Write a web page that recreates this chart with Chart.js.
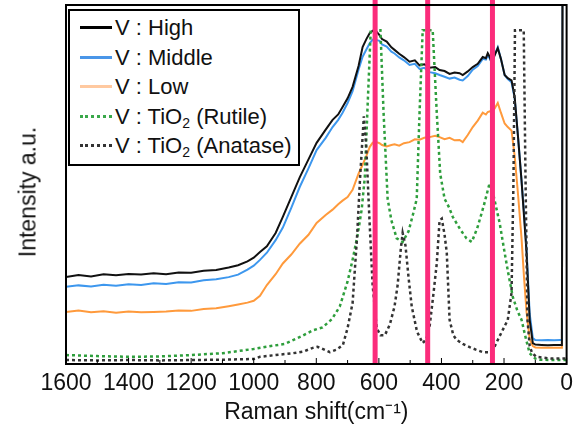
<!DOCTYPE html>
<html>
<head>
<meta charset="utf-8">
<script src="https://cdn.jsdelivr.net/npm/chart.js@4"></script>
<style>
  body { margin: 0; background: #fff; }
  #wrap { position: relative; width: 579px; height: 432px; font-family: "Liberation Sans", Arial, sans-serif; color: #111; }
  #legend {
    position: absolute; left: 68px; top: 9px; width: 228px; height: 153px;
    border: 2px solid #000; background: #fff; font-size: 22px;
  }
  #legend .row { position: absolute; left: 0; height: 26px; line-height: 26px; white-space: nowrap; }
  #legend .swatch { position: absolute; left: 10px; top: 11px; width: 32px; }
  #legend .label { position: absolute; left: 45px; top: 0; }
  #legend sub { font-size: 14px; vertical-align: -4px; line-height: 0; }
  #ytitle {
    position: absolute; left: 28px; top: 192px; font-size: 23px; white-space: nowrap;
    transform: translate(-50%, -50%) rotate(-90deg);
  }
</style>
</head>
<body>
<div id="wrap">
  <canvas id="ramanChart" width="579" height="432"></canvas>
  <div id="ytitle">Intensity a.u.</div>
  <div id="legend"></div>
</div>
<script>
// eixo x compartilhado pelas tres curvas medidas (cm-1)
const shiftX = [1600,1560,1520,1480,1440,1400,1360,1320,1280,1240,1200,1160,1120,1080,1050,1020,1000,980,958,930,907,880,853,825,799,770,748,730,716,700,684,665,652,640,629,620,612,607,598,590,575,560,550,535,520,502,485,470,455,438,420,406,390,374,358,342,332,316,300,284,268,258,252,246,240,230,220,210,198,188,176,166,155,144,136,128,118,108,100,80,60,40,20,15,13];

const highY = [24.2,24.8,24.4,25.0,24.7,25.1,24.9,25.3,25.0,25.5,25.4,26.0,26.2,26.9,27.5,28.6,29.6,31.2,32.8,36.5,41,46.5,52,57,61.6,65.3,68,69.5,71.6,74,77.2,83,88.3,90.5,92.2,92.8,93.2,92.5,91.6,90.5,89.8,88.2,87.5,86.4,85.5,84.2,84.6,83.2,83.5,82.5,82.7,81.9,81.6,80.8,81.2,81,80.5,81.5,82.7,83.6,85.5,85.2,86.6,85.6,84,86,88,85,80.5,79.6,79,74.4,63,51,41,31,12.3,5.8,5.4,5.3,5.2,5.3,5.3,5.3,110];

const middleY = [21.5,21.9,21.6,22.1,21.8,22.2,22.0,22.5,22.3,22.8,22.7,23.3,23.6,24.2,24.9,26.3,27.4,29,31,34.5,38,43.5,49.3,54.5,59.6,63,66,68,70,72.7,76,82,85.6,87.6,89.4,90.3,90.8,90.2,90,89,88.4,87,86.5,85.4,84.6,83.3,83.6,82.2,82.5,81.3,81,80.5,80,79.5,79.8,79.2,79,80.2,82,83,85,84.8,86,85.2,84,86.2,88.2,85,80.5,79.4,78.5,74,63,51,42,32,14,7.2,6.7,6.6,6.7,6.6,6.7,6.7,110];

const lowY = [14.5,14.9,14.4,14.7,14.3,14.6,14.4,14.5,14.6,14.9,14.8,15.3,15.5,16.1,16.6,17.1,17.6,19,22,25,28,30.5,33.5,36,39.3,41.5,43,44.5,45.5,46.5,48.5,53,55.5,58,60.5,61.6,62,61.8,61.5,61,60.6,61,61.2,60.8,61.5,61.8,62.6,62.5,63,63.2,63.6,63.2,62.6,63,62.3,62.4,61.8,63.8,66,67.8,70,69.5,70.2,70.4,70,71.2,72.7,70,67,66,65,58,47,35,24,14.5,7,5,4.6,4.5,4.5,4.5,4.5,4.5,110];

// referencias TiO2
const rutileX = [1600,1500,1400,1300,1200,1100,1000,960,900,850,810,780,750,725,700,684,668,655,645,636,626,595,585,572,560,543,524,505,490,479,470,460,428,415,404,390,375,364,340,320,303,285,265,246,235,214,200,188,172,158,144,130,118,100,86,50,0];
const rutileY = [2.5,2.2,2.0,2.1,2.5,3.0,4.2,4.8,5.6,7.6,9.4,10.2,12.5,16,23,29,36,43,52,72,93,93,70,46,40,35,34,37,42,46,70,93,93,70,53,46,43.5,41,37.5,35,34,38,44,50.4,47.5,39.3,32,26,18.7,15,12.3,7,3,1.5,1.2,1.1,1.1];

const anataseX = [1600,1500,1400,1300,1200,1100,1000,980,930,875,840,811,796,780,757,735,715,700,684,670,660,648,640,630,620,607,595,581,565,550,540,530,524,515,505,495,478,460,448,438,425,415,406,399,390,383,374,362,351,330,310,290,268,246,232,220,204,188,176,170,165,137,131,125,118,110,96,50,0];
const anataseY = [1.1,1.0,1.1,1.0,1.1,1.2,1.4,2,2.5,3,3.5,4.5,4.8,4.2,3.3,4,5.3,10,17,35,52,69,60,40,22,10,8,8,11,16,22,32,36.5,33,24,16,9,5.8,7,10.3,20,28,40,40.5,36,31,12.3,8,6.7,5.5,4.7,4,3.3,3.3,4.5,6.7,9.5,12.3,19.8,50,93,93,49.3,12.3,5,3,2,1.5,1.5];

// linhas verticais rosa (cm-1)
const markerShifts = [612, 444, 237];

const xTicks = [1600, 1400, 1200, 1000, 800, 600, 400, 200, 0];

const toPoints = (xs, ys) => xs.map((x, i) => ({ x: x, y: ys[i] }));

const series = [
  { label: 'V : TiO<sub>2</sub> (Anatase)', x: anataseX, y: anataseY, color: '#333333', legendColor: '#333333', dash: [3, 3] },
  { label: 'V : TiO<sub>2</sub> (Rutile)', x: rutileX, y: rutileY, color: '#2e9e3c', legendColor: '#3aa84a', dash: [3, 3] },
  { label: 'V : High', x: shiftX, y: highY, color: '#111111', legendColor: '#000000', dash: [] },
  { label: 'V : Middle', x: shiftX, y: middleY, color: '#3d97ee', legendColor: '#4a96e8', dash: [] },
  { label: 'V : Low', x: shiftX, y: lowY, color: '#ff9a3c', legendColor: '#ffc9a0', dash: [] }
];

document.addEventListener('DOMContentLoaded', () => {
  const ctx = document.getElementById('ramanChart').getContext('2d');

  const datasets = [];
  markerShifts.forEach(s => {
    datasets.push({
      data: [{ x: s, y: 0 }, { x: s, y: 101.5 }],
      borderColor: '#fb2c7b', borderWidth: 5, pointRadius: 0, clip: false
    });
  });
  series.forEach(s => {
    datasets.push({
      data: toPoints(s.x, s.y),
      borderColor: s.color, borderWidth: s.dash.length ? 2.5 : 2,
      borderDash: s.dash, pointRadius: 0, tension: 0
    });
  });

  // moldura e marcas internas do eixo x
  const frame = {
    id: 'frame',
    afterDatasetsDraw(chart) {
      const { ctx, chartArea: a, scales: { x } } = chart;
      ctx.save();
      ctx.strokeStyle = '#000';
      ctx.lineWidth = 1;
      for (let v = 0; v <= 1600; v += 100) {
        const px = x.getPixelForValue(v);
        ctx.beginPath();
        ctx.moveTo(px, a.bottom);
        ctx.lineTo(px, a.bottom - (v % 200 === 0 ? 6 : 4));
        ctx.stroke();
      }
      ctx.lineWidth = 2;
      ctx.strokeRect(a.left, a.top, a.right - a.left, a.bottom - a.top);
      ctx.restore();
    }
  };

  new Chart(ctx, {
    type: 'line',
    data: { datasets: datasets },
    plugins: [frame],
    options: {
      responsive: false,
      animation: false,
      layout: { padding: { top: 5, right: 12, left: 0, bottom: 0 } },
      plugins: { legend: { display: false }, tooltip: { enabled: false } },
      scales: {
        x: {
          type: 'linear', reverse: true, min: 0, max: 1600,
          afterBuildTicks: scale => { scale.ticks = xTicks.map(v => ({ value: v })); },
          afterFit: scale => { scale.height = 68; },
          grid: { display: false, drawTicks: false },
          border: { display: false },
          ticks: {
            color: '#111', padding: 6, maxRotation: 0,
            font: { family: 'Liberation Sans', size: 23 },
            callback: v => String(v)
          },
          title: {
            display: true, text: 'Raman shift(cm\u207B\u00B9)', color: '#111',
            padding: { top: 0, bottom: 6 }, font: { family: 'Liberation Sans', size: 23 }
          }
        },
        y: {
          min: 0, max: 100,
          afterFit: scale => { scale.width = 66; },
          grid: { display: false, drawTicks: false },
          border: { display: false },
          ticks: { display: false },
          title: { display: false }
        }
      }
    }
  });

  // legenda em HTML (subscrito real em TiO2)
  const legend = document.getElementById('legend');
  const order = ['V : High', 'V : Middle', 'V : Low', 'V : TiO<sub>2</sub> (Rutile)', 'V : TiO<sub>2</sub> (Anatase)'];
  order.forEach((name, i) => {
    const s = series.find(d => d.label === name);
    const row = document.createElement('div');
    row.className = 'row';
    row.style.top = (4 + i * 29.5) + 'px';
    row.style.width = '100%';
    const sw = document.createElement('div');
    sw.className = 'swatch';
    sw.style.borderTop = (s.dash.length ? '3px dotted ' : '3px solid ') + s.legendColor;
    const lb = document.createElement('div');
    lb.className = 'label';
    lb.innerHTML = s.label;
    row.appendChild(sw);
    row.appendChild(lb);
    legend.appendChild(row);
  });
});
</script>
</body>
</html>
